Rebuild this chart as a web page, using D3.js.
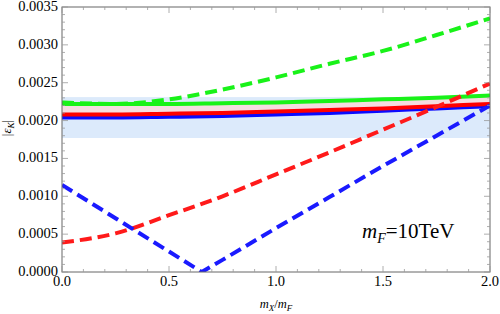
<!DOCTYPE html>
<html>
<head>
<meta charset="utf-8">
<script src="https://cdn.jsdelivr.net/npm/d3@7"></script>
<style>
  body { margin: 0; background: #fff; }
  svg text { font-family: "Liberation Serif", "DejaVu Serif", serif; }
</style>
</head>
<body>
<div id="chart"></div>
<script>
// values
const xGrid = [0, 0.25, 0.5, 0.75, 1.0, 1.25, 1.5, 1.75, 2.0];
const greenSolid = [0.00222, 0.00222, 0.00222, 0.00223, 0.00224, 0.00226, 0.00228, 0.00230, 0.00233];
const redSolid   = [0.00208, 0.00208, 0.00209, 0.00210, 0.00212, 0.00214, 0.00216, 0.00219, 0.00222];
const blueSolid  = [0.00204, 0.00204, 0.00205, 0.00206, 0.00208, 0.00210, 0.00213, 0.00216, 0.00219];
const greenDashed = [0.00224, 0.00222, 0.00228, 0.00241, 0.00257, 0.00275, 0.00292, 0.00313, 0.00335];
const redDashed   = [0.00039, 0.00051, 0.00075, 0.00100, 0.00129, 0.00158, 0.00188, 0.00218, 0.00249];
const blueDashedX = [0, 0.25, 0.5, 0.653, 0.75, 1.0, 1.25, 1.5, 1.75, 2.0];
const blueDashed  = [0.00115, 0.00071, 0.00027, 0, 0.00016, 0.00058, 0.00099, 0.00140, 0.00180, 0.00220];
const expBand = [0.00177, 0.00231];
const yTicks = [0, 0.0005, 0.001, 0.0015, 0.002, 0.0025, 0.003, 0.0035];
const xTicks = [0, 0.5, 1.0, 1.5, 2.0];

const width = 500, height = 314;
const margin = { top: 7, right: 10, bottom: 42, left: 62 };
const iw = width - margin.left - margin.right;
const ih = height - margin.top - margin.bottom;

const svg = d3.select('#chart').append('svg')
  .attr('width', width)
  .attr('height', height);

const x = d3.scaleLinear().domain([0, 2]).range([0, iw]);
const y = d3.scaleLinear().domain([0, 0.0035]).range([ih, 0]);

const g = svg.append('g')
  .attr('transform', `translate(${margin.left},${margin.top})`);

g.append('clipPath').attr('id', 'clip')
  .append('rect').attr('width', iw).attr('height', ih);

const plot = g.append('g').attr('clip-path', 'url(#clip)');

// experimental band
plot.append('rect')
  .attr('x', 0).attr('width', iw)
  .attr('y', y(expBand[1]))
  .attr('height', y(expBand[0]) - y(expBand[1]))
  .attr('fill', '#dceafb');

// pink band between red and green solid
const band = d3.area()
  .x((d, i) => x(xGrid[i]))
  .y0((d, i) => y(redSolid[i]))
  .y1((d, i) => y(greenSolid[i]))
  .curve(d3.curveMonotoneX);
plot.append('path')
  .datum(xGrid)
  .attr('d', band)
  .attr('fill', '#ffd6d6')
  .attr('opacity', 0.7);

const line = (xs, curve) => d3.line()
  .x((d, i) => x(xs[i]))
  .y(d => y(d))
  .curve(curve || d3.curveMonotoneX);

const solids = [
  { v: greenSolid, c: '#19f219' },
  { v: blueSolid, c: '#0a0aff' },
  { v: redSolid, c: '#ff0000' }
];
solids.forEach(s => {
  plot.append('path')
    .datum(s.v)
    .attr('d', line(xGrid))
    .attr('fill', 'none')
    .attr('stroke', s.c)
    .attr('stroke-width', 4);
});

// blue dashed has a sharp kink at its zero, so keep it piecewise linear
const dashed = [
  { v: greenDashed, xs: xGrid, c: '#19f219' },
  { v: redDashed, xs: xGrid, c: '#ff1a1a' },
  { v: blueDashed, xs: blueDashedX, c: '#1a1aff', curve: d3.curveLinear }
];
dashed.forEach(s => {
  plot.append('path')
    .datum(s.v)
    .attr('d', line(s.xs, s.curve))
    .attr('fill', 'none')
    .attr('stroke', s.c)
    .attr('stroke-width', 4)
    .attr('stroke-dasharray', '12,6');
});

// frame with inward ticks
const frameColor = '#666';
g.append('rect')
  .attr('width', iw).attr('height', ih)
  .attr('fill', 'none')
  .attr('stroke', frameColor)
  .attr('stroke-width', 1);

const ticks = g.append('g').attr('stroke', '#999').attr('stroke-width', 0.8);
d3.range(0, 21).forEach(k => {
  const v = k / 10;
  const len = k % 5 === 0 ? 6 : 3;
  ticks.append('line').attr('x1', x(v)).attr('x2', x(v)).attr('y1', ih).attr('y2', ih - len);
  ticks.append('line').attr('x1', x(v)).attr('x2', x(v)).attr('y1', 0).attr('y2', len);
});
d3.range(0, 36).forEach(k => {
  const v = k / 10000;
  const len = k % 5 === 0 ? 6 : 3;
  ticks.append('line').attr('y1', y(v)).attr('y2', y(v)).attr('x1', 0).attr('x2', len);
  ticks.append('line').attr('y1', y(v)).attr('y2', y(v)).attr('x1', iw).attr('x2', iw - len);
});

// tick labels
g.selectAll('.ylab').data(yTicks).enter().append('text')
  .attr('x', -4).attr('y', d => y(d) + 4)
  .attr('text-anchor', 'end')
  .style('font-size', '14.5px')
  .text(d => d3.format('.4f')(d));

g.selectAll('.xlab').data(xTicks).enter().append('text')
  .attr('x', d => x(d)).attr('y', ih + 14)
  .attr('text-anchor', 'middle')
  .style('font-size', '14.5px')
  .text(d => d3.format('.1f')(d));

// axis titles
const xt = svg.append('text')
  .attr('x', margin.left + iw / 2).attr('y', 308)
  .attr('text-anchor', 'middle')
  .style('font-size', '12.5px')
  .style('font-style', 'italic');
xt.append('tspan').text('m');
xt.append('tspan').attr('dy', 3).style('font-size', '9px').text('X');
xt.append('tspan').attr('dy', -3).style('font-style', 'normal').text('/');
xt.append('tspan').text('m');
xt.append('tspan').attr('dy', 3).style('font-size', '9px').text('F');

const yt = svg.append('text')
  .attr('transform', 'translate(11,128) rotate(-90)')
  .attr('text-anchor', 'middle')
  .style('font-size', '13px');
yt.append('tspan').text('|');
yt.append('tspan').style('font-style', 'italic').text('ε');
yt.append('tspan').attr('dy', 3).style('font-size', '9px').style('font-style', 'italic').text('K');
yt.append('tspan').attr('dy', -3).text('|');

// annotation
const ann = svg.append('text')
  .attr('x', 362).attr('y', 238)
  .style('font-size', '21px');
ann.append('tspan').style('font-style', 'italic').text('m');
ann.append('tspan').attr('dy', 5).style('font-size', '14px').style('font-style', 'italic').text('F');
ann.append('tspan').attr('dy', -5).text('=10TeV');
</script>
</body>
</html>
